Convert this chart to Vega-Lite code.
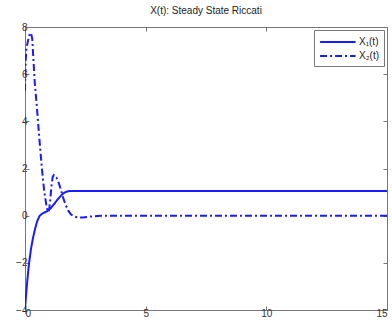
{
  "$schema": "https://vega.github.io/schema/vega-lite/v6.json",
  "width": 362,
  "height": 283,
  "autosize": {"type": "none"},
  "padding": {"left": 25, "top": 27, "right": 5, "bottom": 15},
  "background": "white",
  "title": {"text": "X(t): Steady State Riccati", "fontSize": 10, "font": "Liberation Sans", "fontWeight": "normal", "color": "#222", "offset": 6, "anchor": "middle"},
  "config": {
    "view": {"stroke": "#777", "strokeWidth": 1},
    "axis": {"grid": false, "domain": false, "tickColor": "#777", "tickSize": -4, "labelFont": "Liberation Sans", "labelFontSize": 10, "labelColor": "#333", "labelPadding": 2}
  },
  "data": {"values": [
    {"t": 0, "v": -3.95, "s": "X₁(t)"},
    {"t": 0.05, "v": -3.3, "s": "X₁(t)"},
    {"t": 0.1, "v": -2.7, "s": "X₁(t)"},
    {"t": 0.17, "v": -2.0, "s": "X₁(t)"},
    {"t": 0.25, "v": -1.4, "s": "X₁(t)"},
    {"t": 0.33, "v": -0.95, "s": "X₁(t)"},
    {"t": 0.42, "v": -0.55, "s": "X₁(t)"},
    {"t": 0.5, "v": -0.25, "s": "X₁(t)"},
    {"t": 0.6, "v": -0.02, "s": "X₁(t)"},
    {"t": 0.7, "v": 0.08, "s": "X₁(t)"},
    {"t": 0.8, "v": 0.13, "s": "X₁(t)"},
    {"t": 0.9, "v": 0.18, "s": "X₁(t)"},
    {"t": 1.0, "v": 0.25, "s": "X₁(t)"},
    {"t": 1.1, "v": 0.36, "s": "X₁(t)"},
    {"t": 1.2, "v": 0.48, "s": "X₁(t)"},
    {"t": 1.3, "v": 0.62, "s": "X₁(t)"},
    {"t": 1.4, "v": 0.75, "s": "X₁(t)"},
    {"t": 1.5, "v": 0.86, "s": "X₁(t)"},
    {"t": 1.6, "v": 0.95, "s": "X₁(t)"},
    {"t": 1.7, "v": 1.01, "s": "X₁(t)"},
    {"t": 1.8, "v": 1.04, "s": "X₁(t)"},
    {"t": 1.9, "v": 1.05, "s": "X₁(t)"},
    {"t": 2.2, "v": 1.05, "s": "X₁(t)"},
    {"t": 3, "v": 1.05, "s": "X₁(t)"},
    {"t": 15, "v": 1.05, "s": "X₁(t)"},
    {"t": 0, "v": 5.3, "s": "X₂(t)"},
    {"t": 0.03, "v": 6.6, "s": "X₂(t)"},
    {"t": 0.06, "v": 7.1, "s": "X₂(t)"},
    {"t": 0.1, "v": 7.3, "s": "X₂(t)"},
    {"t": 0.15, "v": 7.55, "s": "X₂(t)"},
    {"t": 0.2, "v": 7.7, "s": "X₂(t)"},
    {"t": 0.25, "v": 7.75, "s": "X₂(t)"},
    {"t": 0.3, "v": 7.5, "s": "X₂(t)"},
    {"t": 0.35, "v": 6.6, "s": "X₂(t)"},
    {"t": 0.4, "v": 5.7, "s": "X₂(t)"},
    {"t": 0.5, "v": 4.5, "s": "X₂(t)"},
    {"t": 0.6, "v": 3.2, "s": "X₂(t)"},
    {"t": 0.7, "v": 2.0, "s": "X₂(t)"},
    {"t": 0.8, "v": 1.0, "s": "X₂(t)"},
    {"t": 0.9, "v": 0.35, "s": "X₂(t)"},
    {"t": 0.96, "v": 0.15, "s": "X₂(t)"},
    {"t": 1.0, "v": 0.25, "s": "X₂(t)"},
    {"t": 1.05, "v": 0.7, "s": "X₂(t)"},
    {"t": 1.1, "v": 1.3, "s": "X₂(t)"},
    {"t": 1.15, "v": 1.65, "s": "X₂(t)"},
    {"t": 1.2, "v": 1.72, "s": "X₂(t)"},
    {"t": 1.3, "v": 1.62, "s": "X₂(t)"},
    {"t": 1.4, "v": 1.38, "s": "X₂(t)"},
    {"t": 1.5, "v": 1.05, "s": "X₂(t)"},
    {"t": 1.6, "v": 0.7, "s": "X₂(t)"},
    {"t": 1.7, "v": 0.42, "s": "X₂(t)"},
    {"t": 1.8, "v": 0.2, "s": "X₂(t)"},
    {"t": 1.9, "v": 0.06, "s": "X₂(t)"},
    {"t": 2.0, "v": -0.02, "s": "X₂(t)"},
    {"t": 2.2, "v": -0.08, "s": "X₂(t)"},
    {"t": 2.4, "v": -0.08, "s": "X₂(t)"},
    {"t": 2.7, "v": -0.04, "s": "X₂(t)"},
    {"t": 3.0, "v": -0.01, "s": "X₂(t)"},
    {"t": 3.5, "v": 0, "s": "X₂(t)"},
    {"t": 15, "v": 0, "s": "X₂(t)"}
  ]},
  "layer": [
    {
      "mark": {"type": "line", "color": "#1a1aff", "strokeWidth": 2, "clip": true},
      "encoding": {
        "x": {"field": "t", "type": "quantitative", "scale": {"domain": [0, 15], "nice": false}, "axis": {"title": null, "values": [0, 5, 10, 15], "orient": "bottom"}},
        "y": {"field": "v", "type": "quantitative", "scale": {"domain": [-4, 8], "nice": false}, "axis": {"title": null, "values": [-4, -2, 0, 2, 4, 6, 8], "orient": "left"}},
        "strokeDash": {"field": "s", "type": "nominal", "scale": {"domain": ["X₁(t)", "X₂(t)"], "range": [[1, 0], [7, 3, 2, 3]]},
          "legend": {"title": null, "orient": "top-right", "offset": 3, "strokeColor": "#777", "fillColor": "white", "padding": 5, "symbolType": "M-1,0H5", "symbolFillColor": "transparent", "symbolStrokeColor": "#1a1aff", "symbolStrokeWidth": 2, "symbolSize": 140, "labelFont": "Liberation Sans", "labelFontSize": 10, "labelColor": "#222", "labelOffset": 26, "rowPadding": 2}}
      }
    },
    {
      "mark": {"type": "line", "opacity": 0},
      "encoding": {
        "x": {"field": "t", "type": "quantitative", "scale": {"domain": [0, 15], "nice": false}, "axis": {"title": null, "values": [0, 5, 10, 15], "orient": "top", "labels": false}},
        "y": {"field": "v", "type": "quantitative", "scale": {"domain": [-4, 8], "nice": false}, "axis": {"title": null, "values": [-4, -2, 0, 2, 4, 6, 8], "orient": "right", "labels": false}}
      }
    }
  ],
  "resolve": {"axis": {"x": "independent", "y": "independent"}}
}
